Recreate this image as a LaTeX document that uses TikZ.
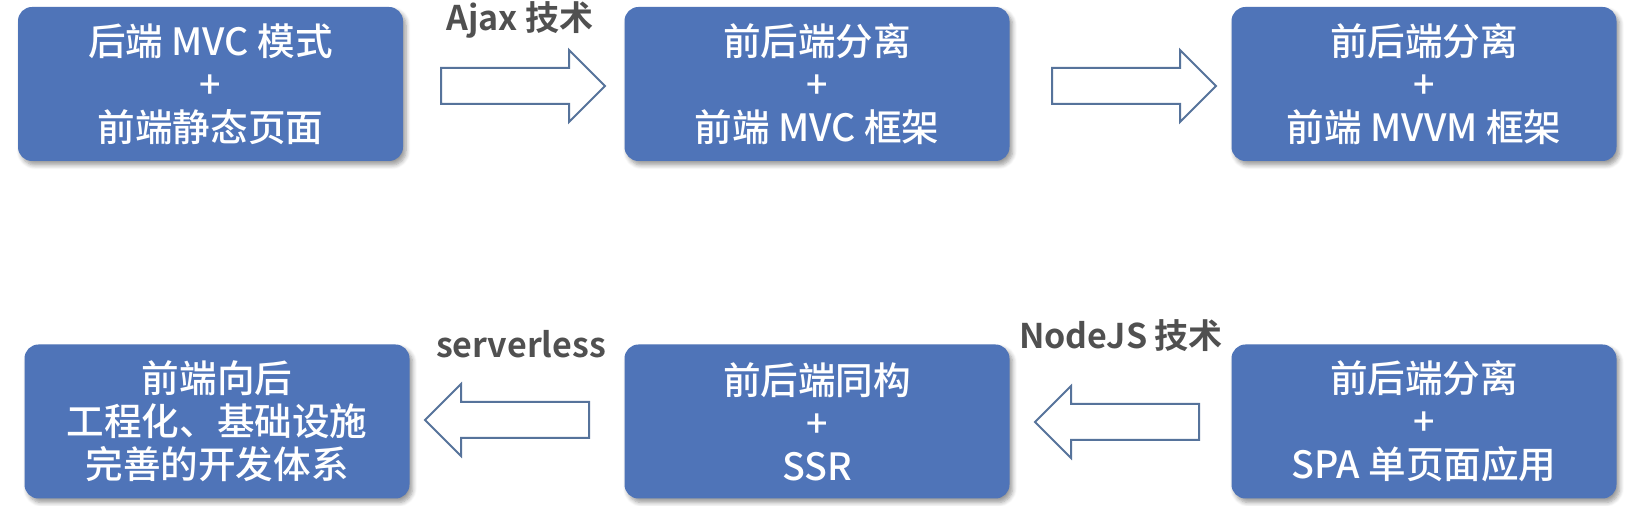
\documentclass[tikz,border=0pt]{standalone}
\usepackage{fontspec}
\setmainfont{Noto Sans CJK SC}[BoldFont={Noto Sans CJK SC Bold}]
\newfontfamily\boxfont{Noto Sans CJK SC Medium}
\usetikzlibrary{shapes.arrows,shadows.blur}
\definecolor{boxblue}{RGB}{79,116,184}
\definecolor{arrowline}{RGB}{86,115,155}
\definecolor{labelgray}{RGB}{80,80,80}

\begin{document}
\begin{tikzpicture}[x=0.5pt,y=-0.5pt]

      \useasboundingbox (0,0) rectangle (1632,506);

      \begin{scope}[every node/.style={rectangle,rounded corners=7pt,fill=boxblue,text=white,
          minimum width=192.5pt,minimum height=77pt,align=center,
          font=\boxfont\fontsize{18.8}{21.5}\selectfont,
          blur shadow={shadow xshift=1.5pt,shadow yshift=-2pt,shadow blur steps=6,shadow opacity=40}}]
        \node (mvc)  at (210.5,84)  {后端 MVC 模式\\+\\前端静态页面};
        \node (sep1) at (817,84)    {前后端分离\\+\\前端 MVC 框架};
        \node (sep2) at (1424,84)   {前后端分离\\+\\前端 MVVM 框架};
        \node (spa)  at (1424,421.5) {前后端分离\\+\\SPA 单页面应用};
        \node (ssr)  at (817,421.5)  {前后端同构\\+\\SSR};
        \node (eng)  at (217,421.5)  {前端向后\\工程化、基础设施\\完善的开发体系};
      \end{scope}

      \begin{scope}[every node/.style={single arrow,draw=arrowline,line width=1pt,fill=white,
          minimum height=82pt,minimum width=1pt,inner sep=8.5pt,
          single arrow head extend=9pt,single arrow head indent=0pt,anchor=tail}]
        \node (ajax)  at (440,86)  {};
        \node (mvvm)  at (1051,86) {};
        \node[shape border rotate=180] (nodejs) at (1200,422) {};
        \node[shape border rotate=180] (sls)    at (590,420)  {};
      \end{scope}

      \begin{scope}[every node/.style={font=\bfseries\fontsize{17}{20}\selectfont,text=labelgray}]
        \node (ajaxtext)   at (520,20)  {Ajax 技术};
        \node (nodejstext) at (1121,336) {NodeJS 技术};
        \node (slstext)    at (521,344) {serverless};
      \end{scope}

    \end{tikzpicture}
\end{document}
